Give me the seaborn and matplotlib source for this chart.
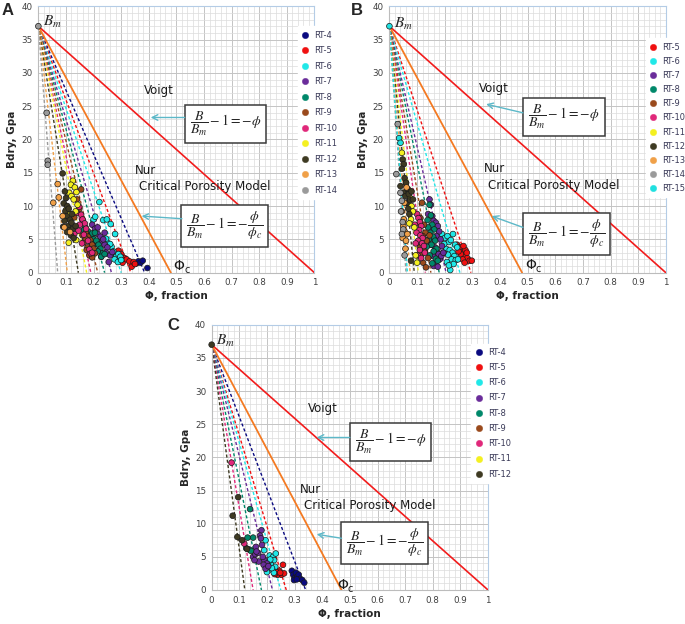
import numpy as np
import pandas as pd
import seaborn as sns
import matplotlib.pyplot as plt
from matplotlib.lines import Line2D

sns.set_style('white')
plt.rcParams['font.family'] = ['DejaVu Sans']
plt.rcParams['mathtext.fontset'] = 'stix'

# ---------------- data ----------------
COLORS = {
    'RT-4': '#0a0a80', 'RT-5': '#f01010', 'RT-6': '#20e8e8', 'RT-7': '#6a2c9a',
    'RT-8': '#00886a', 'RT-9': '#9a4a1c', 'RT-10': '#e0287a', 'RT-11': '#f4f020',
    'RT-12': '#3e3a22', 'RT-13': '#f0a048', 'RT-14': '#9a9a9a', 'RT-15': '#20e0e0',
}
# scatter points of panel A (porosity, Bdry)
A_PTS = {
    'RT-4': ([0.355, 0.362, 0.370, 0.378, 0.395], [1.4, 1.7, 1.5, 1.8, 0.7]),
    'RT-5': ([0.270, 0.282, 0.290, 0.296, 0.305, 0.312, 0.320, 0.330, 0.338, 0.345, 0.350, 0.300],
             [3.0, 2.6, 3.3, 2.0, 1.5, 2.2, 2.0, 1.7, 0.9, 1.6, 1.3, 2.8]),
    'RT-6': ([0.221, 0.200, 0.206, 0.235, 0.248, 0.262, 0.278, 0.250, 0.265, 0.272, 0.283, 0.290,
              0.276, 0.288, 0.297, 0.260, 0.245, 0.300],
             [10.6, 8.0, 8.4, 7.9, 8.0, 7.3, 5.8, 4.5, 3.9, 3.2, 2.5, 2.8, 2.0, 1.6, 2.4, 4.3, 5.1, 1.9]),
    'RT-7': ([0.195, 0.205, 0.215, 0.225, 0.230, 0.240, 0.250, 0.245, 0.260, 0.222, 0.235, 0.210,
              0.255, 0.268, 0.215, 0.228, 0.190, 0.240],
             [7.2, 6.6, 5.8, 5.4, 4.7, 4.2, 3.8, 3.0, 2.6, 3.3, 5.0, 4.5, 1.6, 3.1, 6.8, 2.4, 5.5, 6.0]),
    'RT-8': ([0.160, 0.170, 0.180, 0.185, 0.195, 0.200, 0.210, 0.218, 0.225, 0.232, 0.190, 0.205,
              0.175, 0.215, 0.228, 0.198, 0.240, 0.165],
             [7.9, 6.8, 6.2, 5.5, 5.9, 5.0, 4.8, 4.2, 3.6, 2.9, 4.6, 6.0, 5.2, 3.2, 2.4, 4.0, 2.8, 6.4]),
    'RT-9': ([0.155, 0.140, 0.148, 0.172, 0.180, 0.188, 0.195, 0.178, 0.165, 0.190, 0.200, 0.185,
              0.170, 0.160, 0.205, 0.195, 0.175, 0.130],
             [12.5, 11.0, 9.5, 6.0, 5.4, 4.9, 4.2, 3.8, 4.6, 3.2, 3.6, 2.6, 5.2, 5.6, 2.9, 2.3, 3.4, 8.3]),
    'RT-10': ([0.148, 0.140, 0.155, 0.160, 0.168, 0.173, 0.150, 0.145, 0.165, 0.180, 0.185, 0.130,
               0.158, 0.190, 0.195],
              [9.9, 9.0, 8.7, 8.0, 7.4, 6.6, 7.2, 6.3, 5.7, 4.8, 3.5, 5.8, 4.4, 2.9, 3.0]),
    'RT-11': ([0.125, 0.118, 0.132, 0.138, 0.112, 0.120, 0.128, 0.142, 0.100, 0.135, 0.110, 0.137, 0.115],
              [13.8, 13.2, 12.8, 12.1, 12.0, 11.5, 11.0, 10.2, 9.4, 9.2, 4.5, 4.9, 8.8]),
    'RT-12': ([0.088, 0.096, 0.100, 0.092, 0.105, 0.098, 0.110, 0.102, 0.095, 0.115, 0.108, 0.120,
               0.112, 0.125, 0.104, 0.118, 0.090, 0.128, 0.122, 0.135],
              [14.9, 12.2, 11.2, 10.4, 10.0, 9.2, 9.6, 8.5, 7.8, 7.9, 7.0, 7.5, 6.4, 6.6, 6.1, 5.6,
               6.9, 5.2, 8.8, 7.0]),
    'RT-13': ([0.070, 0.074, 0.054, 0.094, 0.088, 0.115], [13.3, 11.3, 10.5, 6.8, 8.5, 6.1]),
    'RT-14': ([0.0, 0.030, 0.034, 0.034], [37.0, 24.0, 16.8, 16.2]),
}
# x-intercepts of the dashed per-sample trend lines (panel A)
A_LINES = {'RT-4': 0.385, 'RT-5': 0.335, 'RT-6': 0.300, 'RT-7': 0.265, 'RT-8': 0.240,
           'RT-9': 0.215, 'RT-10': 0.190, 'RT-11': 0.175, 'RT-12': 0.145, 'RT-13': 0.105,
           'RT-14': 0.070}

B_PTS = {
    'RT-5': ([0.245, 0.255, 0.262, 0.270, 0.275, 0.282, 0.290, 0.265, 0.272, 0.258, 0.280, 0.298,
              0.250, 0.268],
             [4.2, 3.8, 3.0, 2.6, 3.4, 2.2, 1.8, 2.0, 1.5, 2.8, 3.0, 1.8, 3.2, 4.0]),
    'RT-6': ([0.190, 0.200, 0.210, 0.215, 0.222, 0.230, 0.238, 0.245, 0.205, 0.218, 0.228, 0.235,
              0.212, 0.198, 0.225, 0.240, 0.208, 0.232, 0.220, 0.248, 0.195, 0.215],
             [5.8, 5.2, 5.5, 4.6, 4.9, 5.8, 4.2, 3.8, 3.6, 3.4, 3.0, 2.5, 2.7, 4.3, 2.0, 1.9, 1.6,
              1.3, 0.4, 2.0, 3.0, 1.1]),
    'RT-7': ([0.145, 0.150, 0.155, 0.160, 0.168, 0.175, 0.180, 0.170, 0.162, 0.155, 0.185, 0.190,
              0.165, 0.172, 0.178, 0.158, 0.150, 0.182, 0.168, 0.188, 0.160, 0.175, 0.195, 0.140],
             [11.0, 10.2, 8.5, 7.8, 7.5, 7.0, 6.2, 5.5, 5.0, 6.6, 5.0, 4.0, 3.8, 3.2, 2.8, 2.5, 4.2,
              2.0, 1.6, 2.5, 1.0, 0.9, 3.0, 8.8]),
    'RT-8': ([0.145, 0.150, 0.138, 0.155, 0.162, 0.148, 0.158, 0.165, 0.142, 0.152, 0.170, 0.160,
              0.135, 0.146, 0.168, 0.175, 0.155, 0.140],
             [10.2, 8.6, 7.9, 7.2, 6.5, 6.0, 5.4, 4.8, 5.0, 4.2, 3.6, 3.2, 3.9, 2.6, 2.1, 1.8, 1.4, 6.8]),
    'RT-9': ([0.118, 0.112, 0.125, 0.130, 0.120, 0.108, 0.135, 0.128, 0.115, 0.140, 0.122, 0.132,
              0.110, 0.145],
             [10.5, 8.2, 7.2, 6.0, 5.5, 4.5, 4.8, 3.2, 2.6, 2.2, 1.5, 0.8, 3.8, 5.6]),
    'RT-10': ([0.100, 0.105, 0.110, 0.115, 0.108, 0.098, 0.112, 0.120, 0.104, 0.118, 0.125, 0.095,
               0.110, 0.128, 0.102, 0.115, 0.092],
              [8.8, 8.2, 7.6, 7.0, 6.4, 6.0, 5.6, 5.2, 4.8, 4.4, 4.0, 4.4, 3.4, 3.0, 2.6, 2.2, 7.2]),
    'RT-11': ([0.045, 0.060, 0.070, 0.075, 0.065, 0.080, 0.085, 0.078, 0.090, 0.072, 0.095, 0.100],
              [18.0, 13.5, 12.4, 11.2, 10.5, 10.0, 9.2, 8.0, 6.8, 7.4, 2.6, 1.5]),
    'RT-12': ([0.048, 0.052, 0.045, 0.040, 0.055, 0.050, 0.060, 0.058, 0.065, 0.062, 0.070, 0.068,
               0.075, 0.080, 0.072, 0.085, 0.078],
              [17.0, 16.3, 15.6, 13.0, 14.2, 12.0, 13.5, 11.5, 12.6, 10.5, 11.8, 9.6, 10.9, 12.2,
               8.8, 11.0, 1.8]),
    'RT-13': ([0.050, 0.055, 0.048, 0.052, 0.060, 0.058, 0.062, 0.045, 0.065, 0.054],
              [7.0, 6.2, 5.2, 8.0, 4.8, 3.6, 12.8, 9.2, 5.8, 10.5]),
    'RT-14': ([0.030, 0.025, 0.040, 0.045, 0.050, 0.045, 0.055, 0.042, 0.048],
              [22.3, 14.8, 12.0, 10.8, 6.5, 5.8, 2.6, 9.2, 7.6]),
    'RT-15': ([0.0, 0.035, 0.040], [37.0, 20.2, 19.5]),
}
B_LINES = {'RT-5': 0.295, 'RT-6': 0.255, 'RT-7': 0.205, 'RT-8': 0.180, 'RT-9': 0.150,
           'RT-10': 0.130, 'RT-11': 0.105, 'RT-12': 0.090, 'RT-13': 0.075, 'RT-14': 0.060,
           'RT-15': 0.065}

C_PTS = {
    'RT-4': ([0.290, 0.295, 0.300, 0.305, 0.310, 0.315, 0.320, 0.328, 0.335, 0.298, 0.308],
             [2.9, 2.3, 1.8, 2.6, 2.0, 2.3, 1.7, 1.5, 1.1, 1.5, 1.6]),
    'RT-5': ([0.258, 0.245, 0.252, 0.238, 0.228, 0.262, 0.235, 0.248],
             [3.8, 2.9, 2.3, 2.3, 2.4, 2.5, 2.7, 2.6]),
    'RT-6': ([0.195, 0.190, 0.210, 0.222, 0.226, 0.215, 0.230, 0.220, 0.200, 0.225, 0.205, 0.232,
              0.212, 0.218],
             [7.5, 6.0, 5.2, 5.0, 4.5, 3.8, 3.5, 3.0, 2.7, 2.6, 4.2, 5.5, 4.6, 3.3]),
    'RT-7': ([0.180, 0.175, 0.178, 0.160, 0.150, 0.158, 0.168, 0.190, 0.200, 0.188, 0.170, 0.162,
              0.185, 0.195, 0.155, 0.205, 0.182],
             [9.0, 8.2, 7.8, 6.5, 5.0, 5.4, 5.6, 4.6, 4.0, 3.8, 4.3, 5.8, 5.0, 3.2, 4.5, 3.6, 6.8]),
    'RT-8': ([0.139, 0.130, 0.150, 0.136, 0.125, 0.142], [12.2, 7.9, 7.9, 6.1, 6.3, 5.9]),
    'RT-10': ([0.072, 0.118], [19.2, 7.0]),
    'RT-12': ([0.0, 0.096, 0.076, 0.093, 0.110, 0.128], [37.0, 14.0, 11.2, 8.0, 7.5, 6.2]),
}
C_LINES = {'RT-4': 0.340, 'RT-5': 0.270, 'RT-6': 0.250, 'RT-7': 0.220, 'RT-8': 0.180,
           'RT-10': 0.150, 'RT-12': 0.120}

A_LEGEND = ['RT-4', 'RT-5', 'RT-6', 'RT-7', 'RT-8', 'RT-9', 'RT-10', 'RT-11', 'RT-12', 'RT-13', 'RT-14']
B_LEGEND = ['RT-5', 'RT-6', 'RT-7', 'RT-8', 'RT-9', 'RT-10', 'RT-11', 'RT-12', 'RT-13', 'RT-14', 'RT-15']
C_LEGEND = ['RT-4', 'RT-5', 'RT-6', 'RT-7', 'RT-8', 'RT-9', 'RT-10', 'RT-11', 'RT-12']

B_MINERAL = 37.0          # Bm, GPa
PHI_CRIT = {'A': 0.48, 'B': 0.48, 'C': 0.47}
X_TICKS = [0, 0.1, 0.2, 0.3, 0.4, 0.5, 0.6, 0.7, 0.8, 0.9, 1]
X_TICKLABELS = ['0', '0.1', '0.2', '0.3', '0.4', '0.5', '0.6', '0.7', '0.8', '0.9', '1']
Y_TICKS = [0, 5, 10, 15, 20, 25, 30, 35, 40]

EQ_VOIGT = r'$\dfrac{B}{B_m}-1=-\phi$'
EQ_NUR = r'$\dfrac{B}{B_m}-1=-\dfrac{\phi}{\phi_c}$'
ARROW_C = '#5cb8c8'

# text / box placement per panel (data coords)
LAYOUT = {
    'A': dict(voigt=(0.383, 27.4), nur=(0.35, 15.4), cpm=(0.365, 12.9),
              vbox=(0.548, 22.3), nbox=(0.535, 7.05),
              varrow=((0.53, 23.3), (0.407, 23.3)), narrow=((0.52, 8.1), (0.374, 8.5)),
              phic=(0.49, 1.0), bm=(0.018, 37.7), leg=(0.925, 0.94)),
    'B': dict(voigt=(0.325, 27.6), nur=(0.343, 15.6), cpm=(0.357, 13.1),
              vbox=(0.502, 23.4), nbox=(0.502, 5.85),
              varrow=((0.483, 24.0), (0.35, 25.3)), narrow=((0.483, 6.8), (0.37, 8.5)),
              phic=(0.49, 1.2), bm=(0.016, 37.3), leg=(0.912, 0.895)),
    'C': dict(voigt=(0.35, 27.3), nur=(0.32, 15.2), cpm=(0.335, 12.8),
              vbox=(0.517, 22.3), nbox=(0.487, 7.05),
              varrow=((0.50, 23.0), (0.38, 23.0)), narrow=((0.47, 7.8), (0.38, 8.4)),
              phic=(0.455, 0.8), bm=(0.014, 37.6), leg=(0.925, 0.945)),
}


def points_frame(pts):
    rows = []
    for name, (phi, bdry) in pts.items():
        for p, b in zip(phi, bdry):
            rows.append((name, p, b))
    return pd.DataFrame(rows, columns=['sample', 'phi', 'bdry'])


def draw_panel(ax, key, pts, lines, legend_names, legend_spacing):
    lay = LAYOUT[key]
    ax.set_xlim(0, 1)
    ax.set_ylim(0, 40)

    # excel-like grid
    ax.set_xticks(X_TICKS)
    ax.set_xticklabels(X_TICKLABELS)
    ax.set_yticks(Y_TICKS)
    ax.set_xticks(np.arange(0, 1.0001, 0.02), minor=True)
    ax.set_yticks(np.arange(0, 40.001, 1), minor=True)
    ax.grid(which='major', color='#c4c4c4', lw=0.7)
    ax.grid(which='minor', color='#dcdcdc', lw=0.5)
    ax.set_axisbelow(True)
    ax.tick_params(which='both', length=0, labelsize=6.3, labelcolor='#404040', pad=4)
    for side in ['top', 'right']:
        ax.spines[side].set_color('#b4cce6')
    for side in ['left', 'bottom']:
        ax.spines[side].set_color('#bcbcbc')
    for sp in ax.spines.values():
        sp.set_linewidth(0.8)

    # per-sample dashed trend lines from Bm to their x-intercept
    for name, xc in lines.items():
        ax.plot([0, xc], [B_MINERAL, 0], ls=(0, (2.2, 1.6)), lw=1.0,
                color=COLORS[name], zorder=2)

    # Voigt and Nur bounds
    ax.plot([0, 1], [B_MINERAL, 0], color='#f21c1c', lw=1.2, zorder=3)
    ax.plot([0, PHI_CRIT[key]], [B_MINERAL, 0], color='#f47a22', lw=1.3, zorder=3)

    df = points_frame(pts)
    sns.scatterplot(data=df, x='phi', y='bdry', hue='sample', palette=COLORS,
                    s=17, edgecolor='#1a1a1a', linewidth=0.5, legend=False,
                    ax=ax, zorder=5)
    for coll in ax.collections:
        coll.set_clip_on(False)

    txt = dict(fontsize=8.5, color='#1a1a1a', va='center', ha='left')
    ax.text(*lay['voigt'], 'Voigt', **txt)
    ax.text(*lay['nur'], 'Nur', **txt)
    ax.text(*lay['cpm'], 'Critical Porosity Model', **txt)

    box = dict(boxstyle='square,pad=0.35', fc='white', ec='#3a3a3a', lw=1.1)
    ax.text(*lay['vbox'], EQ_VOIGT, fontsize=10, va='center', ha='left', bbox=box, zorder=6)
    ax.text(*lay['nbox'], EQ_NUR, fontsize=10, va='center', ha='left', bbox=box, zorder=6)

    for tail, head in [lay['varrow'], lay['narrow']]:
        ax.annotate('', xy=head, xytext=tail,
                    arrowprops=dict(arrowstyle='->', color=ARROW_C, lw=1.0,
                                    shrinkA=0, shrinkB=0), zorder=6)

    ax.text(*lay['phic'], 'Φ', fontsize=10, va='center', ha='left', color='#1a1a1a')
    ax.annotate('c', xy=lay['phic'], xytext=(7.5, -3), textcoords='offset points',
                fontsize=7, va='center', ha='left', color='#1a1a1a')
    ax.text(*lay['bm'], r'$B_m$', fontsize=11, va='center', ha='left')

    handles = [Line2D([], [], ls='none', marker='o', ms=4.6, mfc=COLORS[n],
                      mec=COLORS[n], mew=0.3) for n in legend_names]
    leg = ax.legend(handles, legend_names, loc='upper left', bbox_to_anchor=lay['leg'],
                    frameon=True, fancybox=False, framealpha=1, edgecolor='white',
                    fontsize=6, labelspacing=legend_spacing, handlelength=0.8,
                    handletextpad=0.7, borderpad=0.5, labelcolor='#3a3a58')
    leg.set_zorder(10)

    ax.set_xlabel('Φ, fraction', fontsize=7.5, fontweight='bold', labelpad=3)
    ax.set_ylabel('Bdry, Gpa', fontsize=7.5, fontweight='bold', labelpad=3)


fig = plt.figure(figsize=(6.85, 6.24), dpi=100)
ax_a = fig.add_axes([0.056, 0.563, 0.403, 0.427])
ax_b = fig.add_axes([0.5685, 0.563, 0.4035, 0.427])
ax_c = fig.add_axes([0.309, 0.0545, 0.4035, 0.425])

draw_panel(ax_a, 'A', A_PTS, A_LINES, A_LEGEND, 0.78)
draw_panel(ax_b, 'B', B_PTS, B_LINES, B_LEGEND, 0.62)
draw_panel(ax_c, 'C', C_PTS, C_LINES, C_LEGEND, 0.75)

panel_font = dict(fontsize=12, fontweight='bold', va='top', ha='left',
                  family=['Liberation Sans', 'DejaVu Sans'])
fig.text(0.002, 0.995, 'A', **panel_font)
fig.text(0.512, 0.995, 'B', **panel_font)
fig.text(0.244, 0.49, 'C', **panel_font)

fig.savefig('out.png', dpi=100)
